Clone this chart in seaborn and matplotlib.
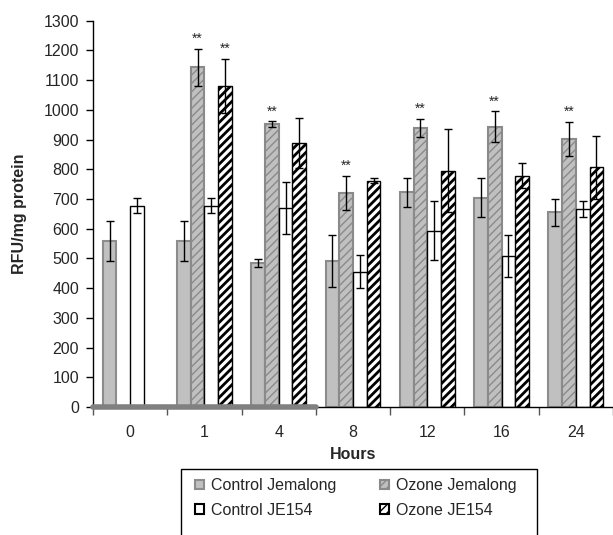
import numpy as np
import pandas as pd
import matplotlib
matplotlib.use("Agg")
import matplotlib.pyplot as plt
from matplotlib.patches import Patch, Rectangle
import seaborn as sns

hours = ["0", "1", "4", "8", "12", "16", "24"]
groups = ["Control Jemalong", "Ozone Jemalong", "Control JE154", "Ozone JE154"]

control_jem = [560, 560, 485, 492, 722, 705, 655]
control_jem_err = [67, 67, 13, 88, 50, 66, 46]
ozone_jem = [np.nan, 1143, 952, 721, 940, 943, 902]
ozone_jem_err = [np.nan, 62, 10, 57, 30, 52, 58]
control_je154 = [678, 678, 670, 455, 593, 508, 666]
control_je154_err = [25, 25, 88, 55, 99, 70, 28]
ozone_je154 = [np.nan, 1081, 889, 761, 795, 778, 806]
ozone_je154_err = [np.nan, 91, 85, 8, 140, 42, 105]

stars_ozone_jem = [False, True, True, True, True, True, True]
stars_ozone_je154 = [False, True, False, False, False, False, False]

values = [control_jem, ozone_jem, control_je154, ozone_je154]
errors = [control_jem_err, ozone_jem_err, control_je154_err, ozone_je154_err]
stars = [None, stars_ozone_jem, None, stars_ozone_je154]

rows = []
for g, vals in zip(groups, values):
    for h, v in zip(hours, vals):
        if not np.isnan(v):
            rows.append({"Hours": h, "Group": g, "RFU": v})
df = pd.DataFrame(rows)

sns.set_style("ticks")
plt.rcParams["font.family"] = ["Liberation Sans", "DejaVu Sans"]
plt.rcParams["hatch.linewidth"] = 1.0

fig = plt.figure(figsize=(6.13, 5.35), dpi=100)
ax = fig.add_axes([93 / 613, 1 - 407 / 535, 520 / 613, (407 - 20.7) / 535])

palette = {"Control Jemalong": "#c0c0c0", "Ozone Jemalong": "#c0c0c0",
           "Control JE154": "white", "Ozone JE154": "white"}
sns.barplot(data=df, x="Hours", y="RFU", hue="Group", order=hours,
            hue_order=groups, palette=palette, width=0.74, errorbar=None,
            legend=False, saturation=1, ax=ax)

styles = [
    dict(ec="#8c8c8c", lw=1.5, hatch=None, hlw=None),
    dict(ec="#8a8a8a", lw=1.5, hatch="////", hlw=1.0),
    dict(ec="black", lw=1.0, hatch=None, hlw=None),
    dict(ec="black", lw=1.0, hatch="////", hlw=2.0),
]

bar_containers = list(ax.containers)[:4]
for ci, cont in enumerate(bar_containers):
    st = styles[ci]
    for bar in cont:
        if np.isnan(bar.get_height()):
            continue
        bar.set_edgecolor(st["ec"])
        bar.set_linewidth(st["lw"])
        if st["hatch"]:
            bar.set_hatch(st["hatch"])
            try:
                bar.set_hatch_linewidth(st["hlw"])
            except Exception:
                pass
        xc = bar.get_x() + bar.get_width() / 2
        k = int(round(xc))
        v = values[ci][k]
        e = errors[ci][k]
        if np.isnan(v):
            continue
        ax.errorbar(xc, v, yerr=e, color="black", lw=1.0, capsize=3,
                    capthick=1.0, zorder=5)
        if stars[ci] is not None and stars[ci][k]:
            ax.annotate("**", (xc, v + e), xytext=(0, 2),
                        textcoords="offset points", ha="center", va="bottom",
                        fontsize=10, zorder=6)

ax.set_ylim(0, 1300)
ax.set_xlim(-0.5, 6.5)
ax.set_yticks(np.arange(0, 1301, 100))
ax.tick_params(axis="y", labelsize=11.5, length=5, width=1, color="black",
               pad=5)
ax.set_xticks(range(len(hours)))
ax.set_xticklabels(hours)
ax.set_xticks(np.arange(-0.5, 6.6, 1), minor=True)
ax.tick_params(axis="x", which="major", length=0, labelsize=11.5, pad=13)
ax.tick_params(axis="x", which="minor", length=6, width=1, color="#555555")

for s in ["top", "right"]:
    ax.spines[s].set_visible(False)
ax.spines["left"].set_color("black")
ax.spines["bottom"].set_color("black")
ax.spines["left"].set_linewidth(1)
ax.spines["bottom"].set_linewidth(1)
ax.axhline(0, xmin=0, xmax=3 / 7, lw=4, color="#808080", zorder=4,
           clip_on=False)

ax.set_xlabel("Hours", fontsize=11.5, fontweight="bold", labelpad=5)
ax.set_ylabel("RFU/mg protein", fontsize=11.5, fontweight="bold", labelpad=12)

fig.add_artist(Rectangle((181 / 613, -0.05), 356 / 613, 0.05 + 1 - 469 / 535,
                         transform=fig.transFigure, fill=False,
                         edgecolor="black", lw=1.0, clip_on=False))

handles = [
    Patch(facecolor="#c0c0c0", edgecolor="#8c8c8c", lw=1.5),
    Patch(facecolor="white", edgecolor="black", lw=1.5),
    Patch(facecolor="#c0c0c0", edgecolor="#8a8a8a", lw=1.5, hatch="////"),
    Patch(facecolor="white", edgecolor="black", lw=1.5, hatch="////"),
]
labels = [groups[0], groups[2], groups[1], groups[3]]
fig.legend(handles, labels, ncol=2, loc="upper left",
           bbox_to_anchor=(195 / 613, 1 - 478 / 535), frameon=False,
           borderpad=0, borderaxespad=0, handlelength=0.55, handleheight=0.55,
           handletextpad=0.45, columnspacing=2.75, labelspacing=0.6,
           fontsize=11.5)

fig.savefig("out.png", dpi=100)
